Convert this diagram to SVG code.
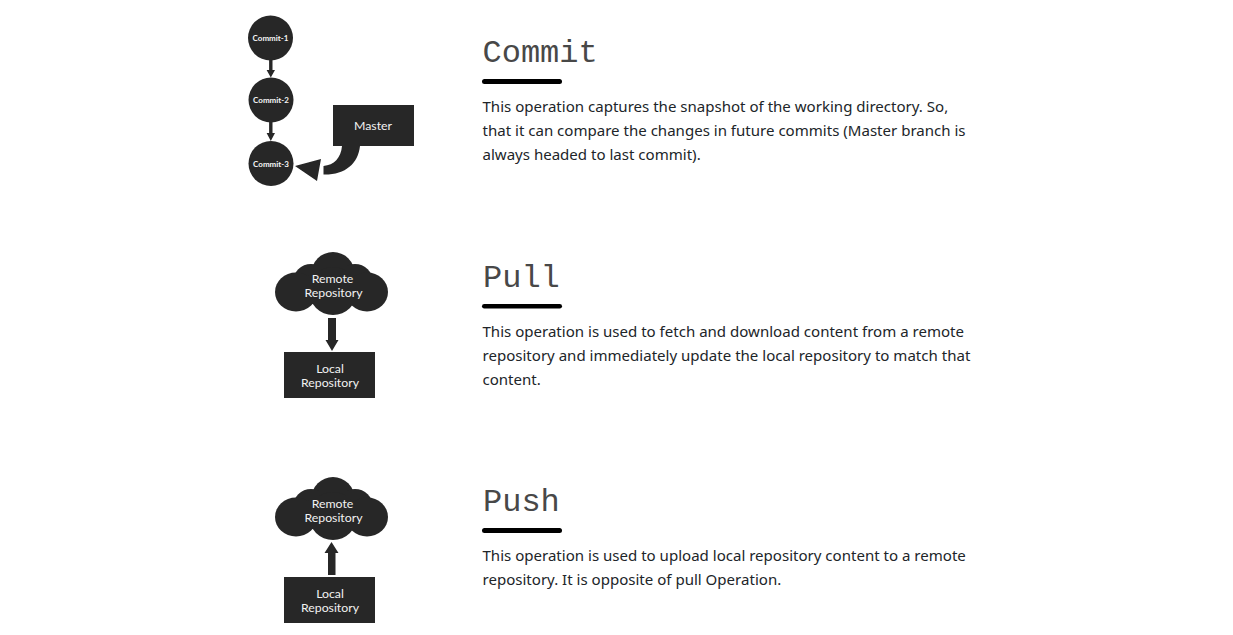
<svg xmlns="http://www.w3.org/2000/svg" width="1233" height="635" viewBox="0 0 1233 635">
<style>
.d{fill:#272727}
.h{font-family:"Liberation Mono",monospace;font-size:32px;fill:#484848}
.b{font-family:"Noto Sans","Open Sans",sans-serif;font-size:15.05px;fill:#212529}
.l{font-family:Lato,sans-serif;font-size:12.3px;fill:#f2f2f2;text-anchor:middle}
.c{font-family:Lato,sans-serif;font-size:8px;font-weight:700;fill:#f5f5f5;text-anchor:middle}
.u{fill:#000}
</style>
<defs>
<g id="cloud" class="d">
<circle cx="333" cy="273.500" r="21.500"/><circle cx="311" cy="282" r="18"/><circle cx="355" cy="282" r="18"/>
<ellipse cx="296" cy="292" rx="21" ry="19.500"/><ellipse cx="367" cy="292" rx="21" ry="19.500"/>
<circle cx="333" cy="291" r="24"/><rect x="296" y="282" width="71" height="22"/>
</g>
</defs>
<g id="connectors">
<path class="d" d="M269.100 59h3.400v11h2.500l-4.200 7.500-4.200-7.500h2.500zM269.100 122h3.400v11h2.500l-4.200 8-4.200-8h2.500z"/>
<path class="d" d="M295 166L321 159L317 181zM323.500 166C334 165 341 158 342 146H360C358 164 345 175 323.500 174.500z"/>
<path class="d" d="M328 318h8v22h2.500l-6.500 11-6.500-11h2.500z"/>
<path class="d" d="M328 575h7.500v-22h3l-7-11-7 11h3.500z"/>
</g>
<g id="commit-1"><circle class="d" cx="270.500" cy="38" r="22.500"/><text class="c" x="270.500" y="41">Commit-1</text></g>
<g id="commit-2"><circle class="d" cx="271" cy="100" r="22.500"/><text class="c" x="271" y="103">Commit-2</text></g>
<g id="commit-3"><circle class="d" cx="271" cy="163.500" r="22.500"/><text class="c" x="271" y="167">Commit-3</text></g>
<g id="master"><rect class="d" x="333" y="105" width="81" height="41"/><text class="l" x="373" y="130">Master</text></g>
<g id="pull-remote"><use href="#cloud"/><text class="l" x="332.500" y="283">Remote</text><text class="l" x="333.500" y="297">Repository</text></g>
<g id="pull-local"><rect class="d" x="284" y="352" width="91" height="46"/><text class="l" x="330" y="373">Local</text><text class="l" x="330" y="387">Repository</text></g>
<g id="push-remote"><use href="#cloud" y="225"/><text class="l" x="332.500" y="508">Remote</text><text class="l" x="333.500" y="522">Repository</text></g>
<g id="push-local"><rect class="d" x="284" y="577" width="91" height="46"/><text class="l" x="330" y="598">Local</text><text class="l" x="330" y="612">Repository</text></g>
<g id="text-commit">
<text class="h" x="482.500" y="62">Commit</text><rect class="u" x="482" y="79" width="80" height="5" rx="2.500"/>
<text class="b" x="482.500" y="112">This operation captures the snapshot of the working directory. So,</text>
<text class="b" x="482.500" y="136">that it can compare the changes in future commits (Master branch is</text>
<text class="b" x="482.500" y="160">always headed to last commit).</text>
</g>
<g id="text-pull">
<text class="h" x="483" y="287">Pull</text><rect class="u" x="482" y="304" width="80" height="4.500" rx="2.250"/>
<text class="b" x="482.500" y="337">This operation is used to fetch and download content from a remote</text>
<text class="b" x="482.500" y="361">repository and immediately update the local repository to match that</text>
<text class="b" x="482.500" y="385">content.</text>
</g>
<g id="text-push">
<text class="h" x="483" y="511">Push</text><rect class="u" x="482" y="528" width="80" height="5" rx="2.500"/>
<text class="b" x="482.500" y="561">This operation is used to upload local repository content to a remote</text>
<text class="b" x="482.500" y="585">repository. It is opposite of pull Operation.</text>
</g>
</svg>
